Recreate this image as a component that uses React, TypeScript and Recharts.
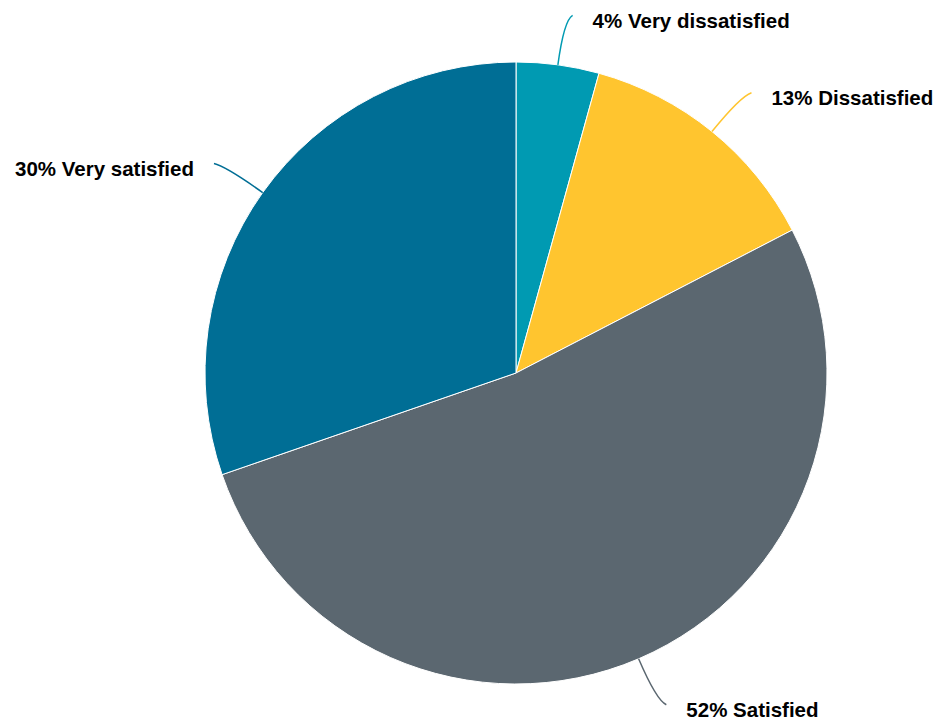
import React from 'react';
import { PieChart, Pie, Cell } from 'recharts';

// satisfaction survey shares, clockwise from 12 o'clock
const categories = ['Very dissatisfied', 'Dissatisfied', 'Satisfied', 'Very satisfied'];
const shares = [4.3, 13.1, 52.3, 30.3];
const colors = ['#009AB2', '#FFC52F', '#5B6770', '#006E95'];

const data = categories.map((name, i) => ({ name, value: shares[i] }));

const RAD = Math.PI / 180;

const polar = (cx: number, cy: number, r: number, angle: number) => ({
  x: cx + r * Math.cos(-angle * RAD),
  y: cy + r * Math.sin(-angle * RAD),
});

const renderLabel = (props: any) => {
  const { cx, cy, midAngle, outerRadius, index, value, name } = props;
  const start = polar(cx, cy, outerRadius, midAngle);
  const ctrl = polar(cx, cy, outerRadius + 45, midAngle);
  const far = polar(cx, cy, outerRadius + 50, midAngle);
  const right = far.x >= cx;
  const side = right ? 1 : -1;
  const end = { x: far.x + 8 * side, y: far.y };
  return (
    <g>
      <path
        d={`M${start.x},${start.y} Q${ctrl.x},${ctrl.y} ${end.x},${end.y}`}
        stroke={colors[index % colors.length]}
        strokeWidth={1.5}
        fill="none"
      />
      <text
        x={end.x + 20 * side}
        y={end.y + 5}
        textAnchor={right ? 'start' : 'end'}
        dominantBaseline="central"
        fill="#000"
        style={{ fontFamily: '"Liberation Sans", Arial, sans-serif', fontSize: 20.5, fontWeight: 'bold' }}
      >
        {`${Math.round(value)}% ${name}`}
      </text>
    </g>
  );
};

export default function App() {
  return (
    <div style={{ position: 'absolute', left: 0, top: 0, width: 935, height: 719 }}>
      <PieChart width={935} height={719} margin={{ top: 0, right: 0, bottom: 0, left: 0 }}>
        <Pie
          data={data}
          dataKey="value"
          nameKey="name"
          cx={516}
          cy={373}
          outerRadius={311}
          startAngle={90}
          endAngle={-270}
          stroke="#fff"
          strokeWidth={1}
          label={renderLabel}
          labelLine={false}
          isAnimationActive={false}
        >
          {data.map((entry, index) => (
            <Cell key={`cell-${index}`} fill={colors[index % colors.length]} />
          ))}
        </Pie>
      </PieChart>
    </div>
  );
}
